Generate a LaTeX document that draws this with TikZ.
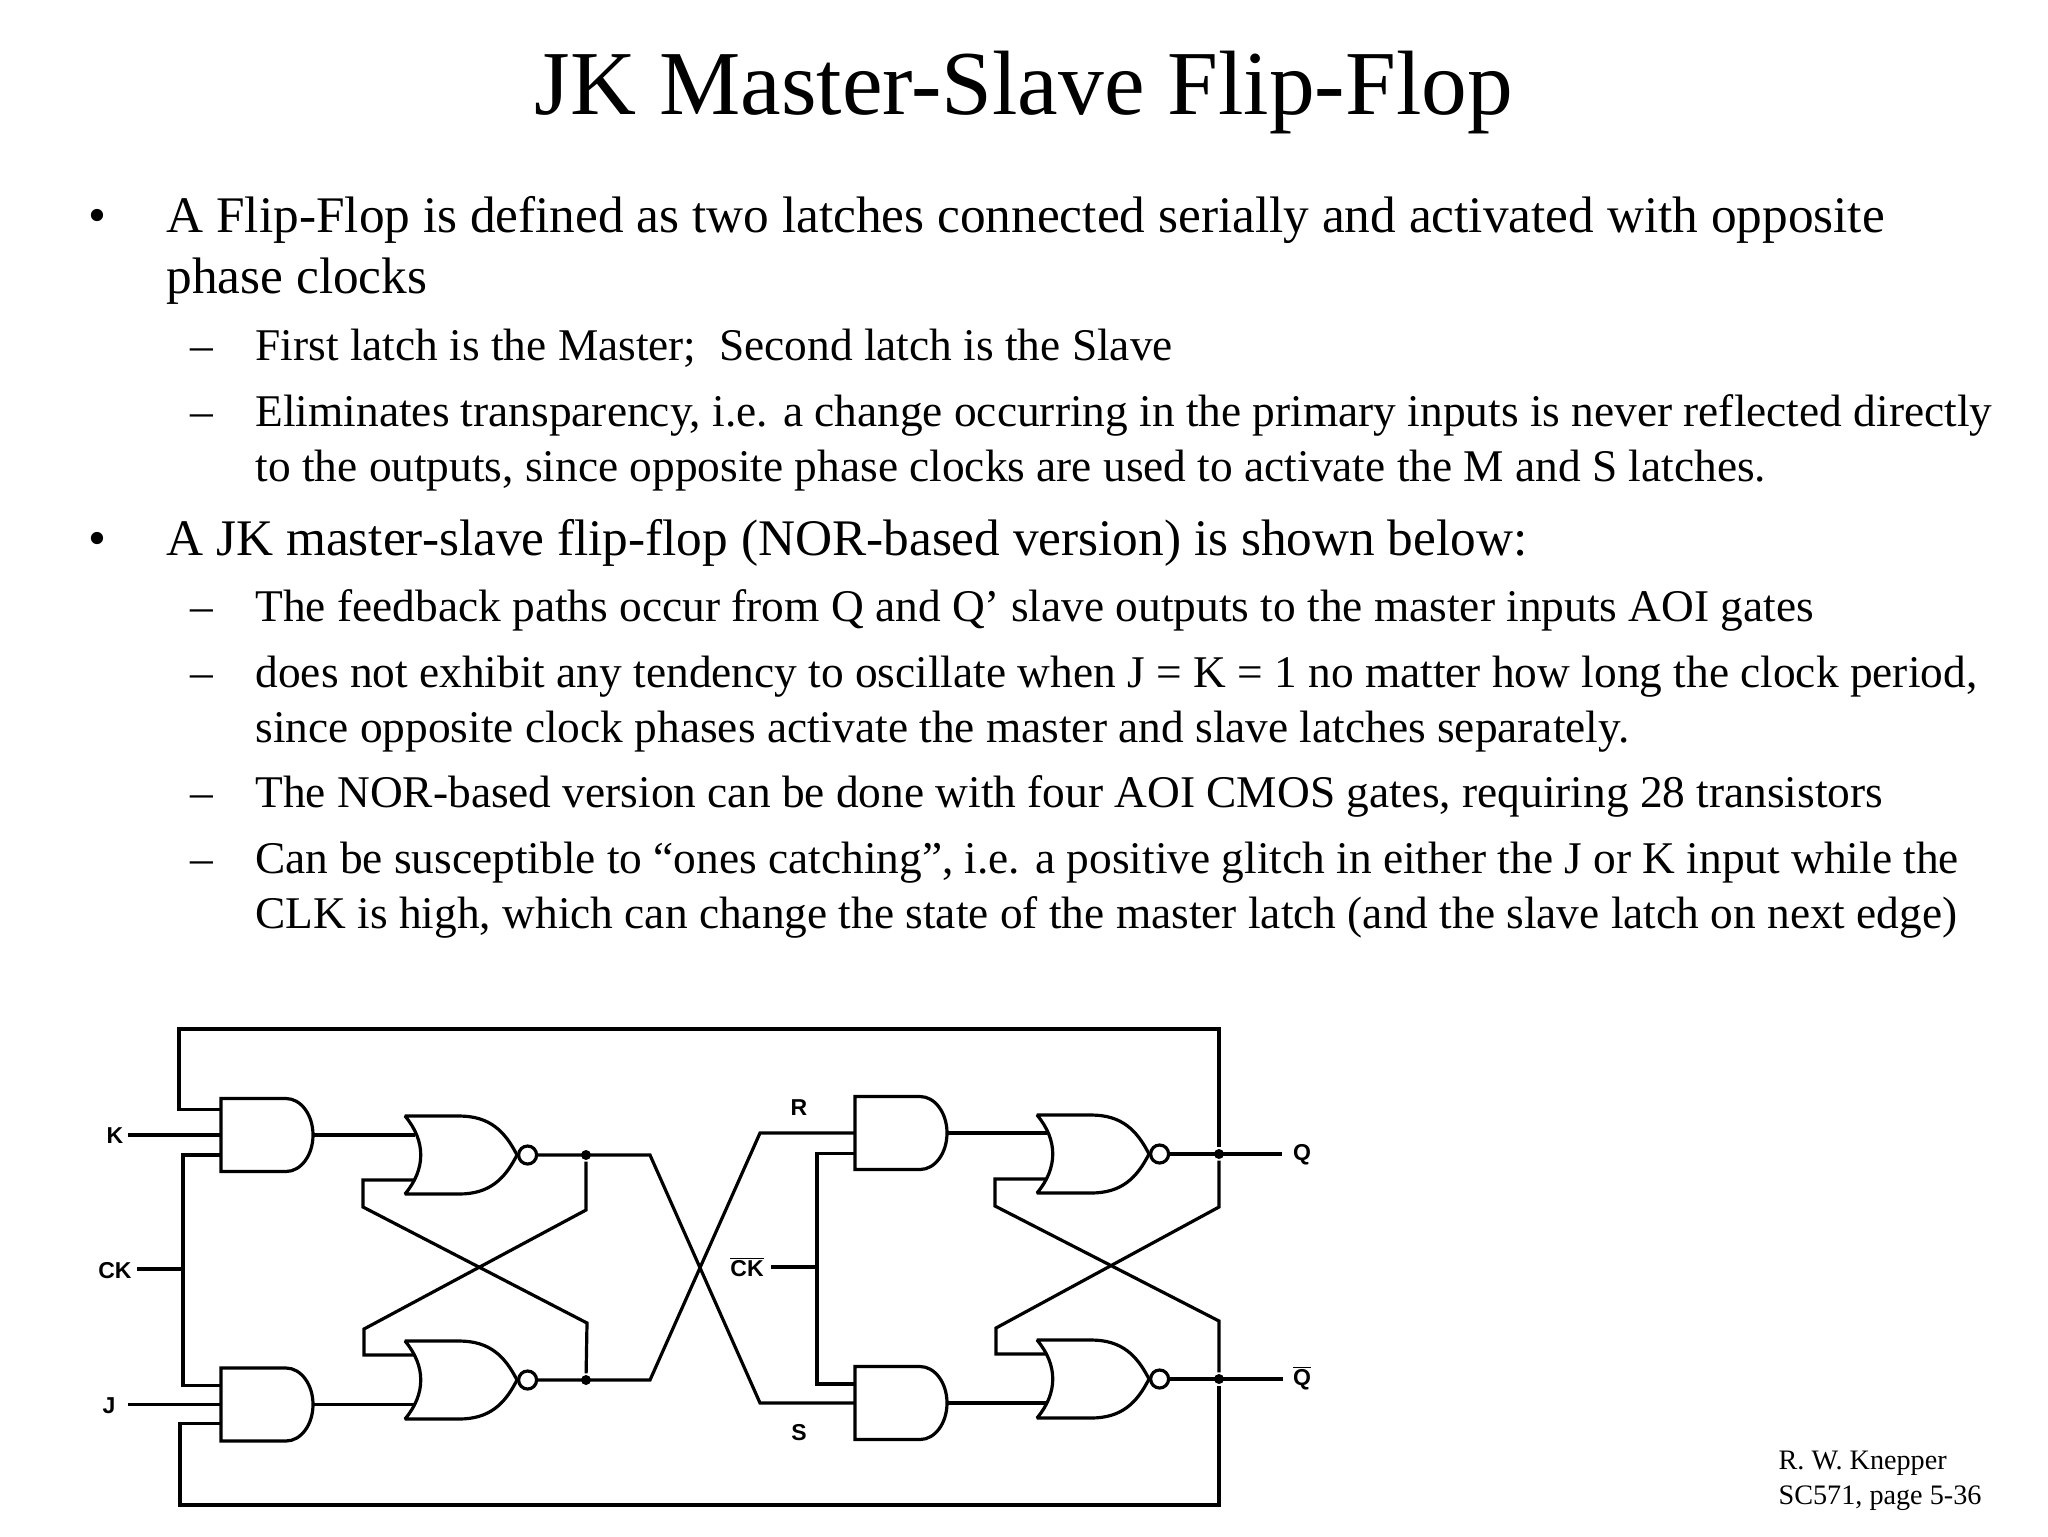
\documentclass[tikz,border=0pt]{standalone}
\usepackage{fontspec}
\setmainfont{Liberation Serif}
\setsansfont{Liberation Sans}
\begin{document}
\begin{tikzpicture}[
  x=0.5pt, y=-0.5pt,
  line width=1.6pt, line join=miter,
  andg/.style = {rectangle, inner sep=0pt, outer sep=0pt,
    minimum width=46pt, minimum height=36.5pt,
    append after command={\pgfextra{
      \draw (\tikzlastnode.north west) -- ++(65,0)
        arc[start angle=90, end angle=-90, x radius=13.5pt, y radius=18.25pt]
        -- (\tikzlastnode.south west) -- cycle;}}},
  norg/.style = {rectangle, inner sep=0pt, outer sep=0pt,
    minimum width=56pt, minimum height=39pt,
    append after command={\pgfextra{
      \draw[line join=bevel] (\tikzlastnode.north west) -- ++(54,0)
        .. controls +(31,0) and +(-12,-23.5) .. (\tikzlastnode.east)
        .. controls +(-12,23.5) and +(31,0) .. ++(-58,39)
        -- (\tikzlastnode.south west)
        .. controls +(21,-25) and +(21,25) .. (\tikzlastnode.north west) -- cycle;
      \coordinate (\tikzlastnode-a) at ([xshift=5pt,yshift=12.5pt]\tikzlastnode.west);
      \coordinate (\tikzlastnode-b) at ([xshift=5pt,yshift=-12.5pt]\tikzlastnode.west);}}},
  bub/.style = {circle, draw, fill=white, inner sep=0pt, minimum size=9pt, anchor=west},
  dot/.style = {circle, fill, inner sep=0pt, minimum size=5pt},
  lab/.style = {font=\fontsize{11.5}{13}\sffamily\bfseries, inner sep=0pt},
  title/.style = {anchor=base, font=\fontsize{45.7}{54}\selectfont, inner sep=0pt},
  lvla/.style = {anchor=base west, font=\fontsize{25.65}{30}\selectfont, inner sep=0pt},
  lvlb/.style = {anchor=base west, font=\fontsize{22.68}{27}\selectfont, inner sep=0pt},
  foot/.style = {anchor=base west, font=\fontsize{14.1}{17}\selectfont, inner sep=0pt}
  ]
  \fill[white] (0,0) rectangle (2048,1536);
  \useasboundingbox (0,0) rectangle (2048,1536);

  % text
  \node[title] (head) at (1024,114) {JK Master-Slave Flip-Flop};
  \foreach \yy/\ii/\txt in {
      232/a1/{A Flip-Flop is defined as two latches connected serially and activated with opposite},
      293/a2/{phase clocks},
      555/a3/{A JK master-slave flip-flop (NOR-based version) is shown below:}}
    \node[lvla] (\ii) at (165,\yy) {\txt};
  \foreach \yy/\ii/\txt in {
      360/b1/{First latch is the Master;\ \ Second latch is the Slave},
      426/b2/{Eliminates transparency, i.e. a change occurring in the primary inputs is never reflected directly},
      481/b3/{to the outputs, since opposite phase clocks are used to activate the M and S latches.},
      621/b4/{The feedback paths occur from Q and Q’ slave outputs to the master inputs AOI gates},
      687/b5/{does not exhibit any tendency to oscillate when J = K = 1 no matter how long the clock period,},
      742/b6/{since opposite clock phases activate the master and slave latches separately.},
      807/b7/{The NOR-based version can be done with four AOI CMOS gates, requiring 28 transistors},
      873/b8/{Can be susceptible to “ones catching”, i.e. a positive glitch in either the J or K input while the},
      928/b9/{CLK is high, which can change the state of the master latch (and the slave latch on next edge)}}
    \node[lvlb] (\ii) at (254,\yy) {\txt};
  \foreach \yy/\ii in {232/p1,555/p2}
    \node[lvla] (\ii) at (87,\yy) {•};
  \foreach \yy/\ii in {360/d1,426/d2,621/d4,687/d5,807/d7,873/d8}
    \node[lvlb] (\ii) at (189,\yy) {–};
  \node[foot] (f1) at (1777,1469) {R. W. Knepper};
  \node[foot] (f2) at (1777,1504) {SC571, page 5-36};

  % gates
  \node[andg] (gk) at (267,1135) {};
  \node[andg] (gj) at (267,1404.5) {};
  \node[norg] (n1) at (461,1155) {};
  \node[norg] (n2) at (461,1380) {};
  \node[andg] (gr) at (901,1133) {};
  \node[andg] (gs) at (901,1403) {};
  \node[norg] (n3) at (1093,1154) {};
  \node[norg] (n4) at (1093,1379) {};
  \node[bub] (o1) at (n1.east) {};
  \node[bub] (o2) at (n2.east) {};
  \node[bub] (o3) at (n3.east) {};
  \node[bub] (o4) at (n4.east) {};

  % labels
  \node[lab] (lk) at (115,1136) {K};
  \node[lab] (lck) at (115,1271) {CK};
  \node[lab] (lj) at (109,1406) {J};
  \node[lab] (lr) at (799,1108) {R};
  \node[lab] (ls) at (799,1433) {S};
  \node[lab] (lcb) at (747,1267) {$\overline{\mbox{CK}}$};
  \node[lab] (lq) at (1302,1155) {Q};
  \node[lab] (lqb) at (1302,1378) {$\overline{\mbox{Q}}$};

  % wire corners and junctions
  \coordinate (tl) at (179,1029);
  \coordinate (tr) at (1219,1029);
  \coordinate (bl) at (180,1505);
  \coordinate (br) at (1219,1505);
  \coordinate (ckj) at (183,1269);
  \coordinate (cbj) at (817,1267);
  \node[dot] (j1) at (586,1155) {};
  \node[dot] (j2) at (586,1380) {};
  \node[dot] (j3) at (1219,1154) {};
  \node[dot] (j4) at (1219,1379) {};
  \coordinate (xa) at (650,1155);
  \coordinate (xb) at (650,1380);
  \coordinate (xc) at (760,1133);
  \coordinate (xd) at (760,1403);
  \coordinate (ks) at (128,1135);
  \coordinate (js) at (128,1404.5);
  \coordinate (qe) at (1282,1154);
  \coordinate (qbe) at (1283,1379);

  % clock and data inputs
  \draw (ks) -- (gk.west);
  \draw (js) -- (gj.west);
  \draw (ckj -| 137,0) -- (ckj);
  \draw (cbj -| 771,0) -- (cbj);
  \draw ([yshift=-10pt]gk.west) -| (ckj) |- ([yshift=9.5pt]gj.west);
  \draw ([yshift=-10.25pt]gr.west) -| (cbj) |- ([yshift=9.5pt]gs.west);

  % feedback from the slave outputs
  \draw ([yshift=12.75pt]gk.west) -| (tl) -- (tr) -- (j3);
  \draw ([yshift=-9.5pt]gj.west) -| (bl) -- (br) -- (j4);

  % master latch
  \draw (gk.east) -- (gk.east -| n1-a);
  \draw (gj.east) -- (gj.east -| n2-a);
  \draw (n1-b) -- ++(-52,0) -- ++(0,27) -- (587,1323) -- (j2);
  \draw (n2-a) -- ++(-51,0) -- ++(0,-26) -- (586,1210) -- (j1);
  \draw (o1.east) -- (xa) -- (xd) -- (gs.west);
  \draw (o2.east) -- (xb) -- (xc) -- (gr.west);

  % slave latch
  \draw (gr.east) -- (gr.east -| n3-a);
  \draw (gs.east) -- (gs.east -| n4-a);
  \draw (n3-b) -- ++(-52,0) -- ++(0,27) -- (1219,1321) -- (j4);
  \draw (n4-a) -- ++(-51,0) -- ++(0,-26) -- (1219,1207) -- (j3);
  \draw (o3.east) -- (qe);
  \draw (o4.east) -- (qbe);
\end{tikzpicture}
\end{document}
